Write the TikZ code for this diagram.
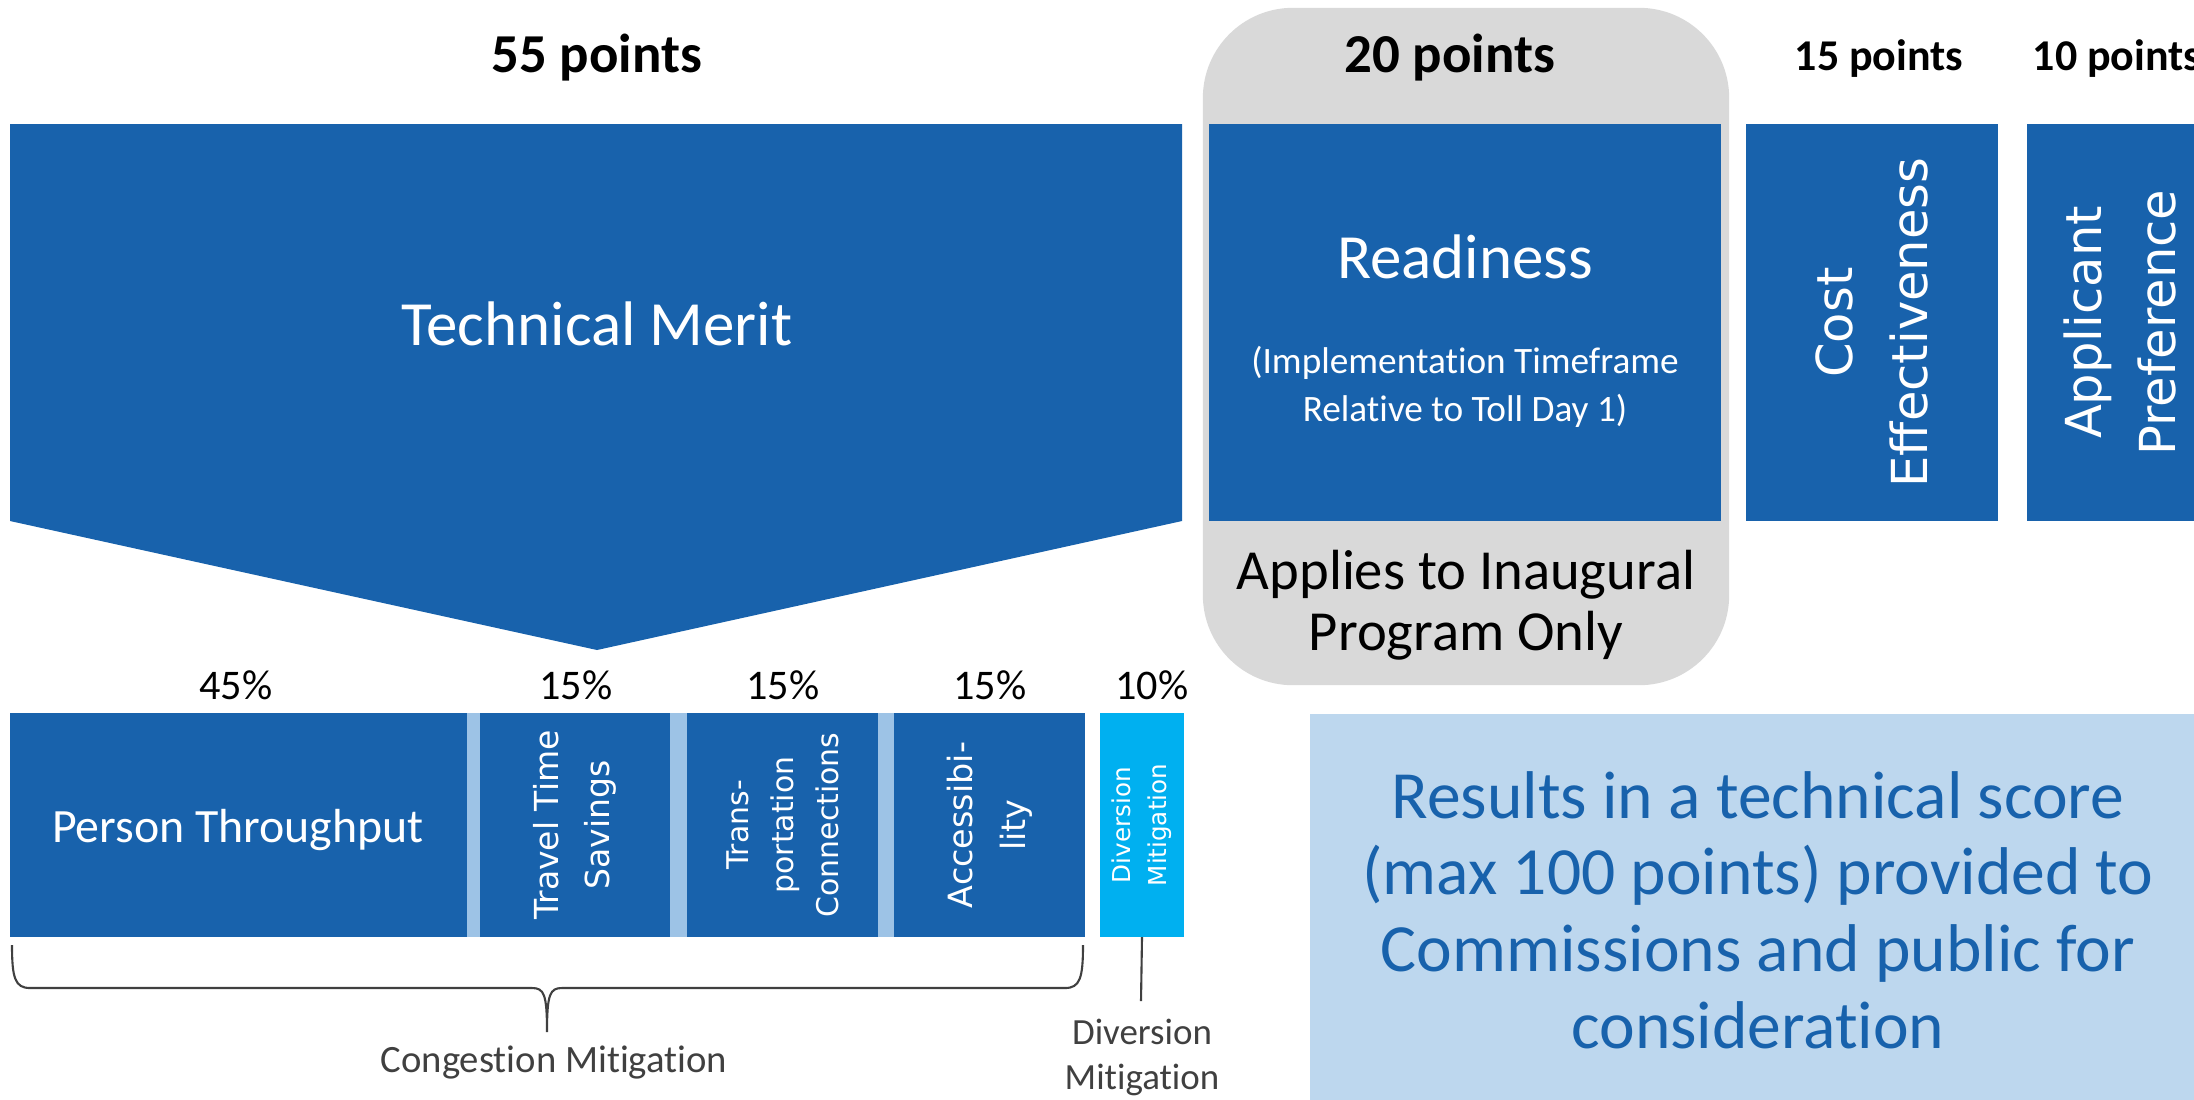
\documentclass[tikz,border=0pt]{standalone}
\usepackage{fontspec}
\setmainfont[Ligatures=NoCommon]{Carlito}
\newfontfamily\vfont{DejaVu Sans}
\usetikzlibrary{positioning,calc}
\definecolor{tblue}{HTML}{1862AC}
\definecolor{sepblue}{HTML}{9DC3E6}
\definecolor{divblue}{HTML}{00B0F0}
\definecolor{resblue}{HTML}{BDD7EE}
\definecolor{panelgrey}{HTML}{D9D9D9}
\definecolor{notegrey}{HTML}{404040}
\newcommand{\fs}[2]{\fontsize{#1}{#2}\selectfont}
\tikzset{
	box/.style={rectangle,fill=tblue,inner sep=0pt,outer sep=0pt,minimum height=3.97cm},
	bar/.style={rectangle,fill=tblue,inner sep=0pt,outer sep=0pt,minimum height=2.24cm},
	panel/.style={rectangle,rounded corners=0.9cm,fill=panelgrey,inner sep=0pt},
	wtext/.style={text=white,align=center,inner sep=0pt},
	vtext/.style={text=white,align=center,inner sep=0pt,rotate=90},
	head/.style={inner sep=0pt,font=\bfseries\fs{#1}{#1}},
	pct/.style={inner sep=0pt,font=\fs{12}{14}},
	note/.style={inner sep=0pt,text=notegrey,align=center},
	guide/.style={draw=notegrey,line width=0.6pt},
	resbox/.style={rectangle,fill=resblue,text=tblue,align=center,inner sep=0pt}}

\begin{document}
\begin{tikzpicture}[x=0.01cm,y=-0.01cm]
		\useasboundingbox (0,0) rectangle (2194,1099);
		% top row
		\node (inaug) at (1466,346.5) [panel,minimum width=5.26cm,minimum height=6.77cm] {};
		\fill [tblue] (10,124) -- (1182,124) -- (1182,521) -- (597,650) -- (10,521) -- cycle;
		\node (ready) at (1465,322.5) [box,minimum width=5.12cm] {};
		\node (cost) at (1872,322.5) [box,minimum width=2.52cm] {};
		\node (appl) at (2120,322.5) [box,minimum width=1.86cm] {};
		\node (h55) at (597,58) [head=15.6] {55 points};
		\node (h20) at (1450,58) [head=15.6] {20 points};
		\node (h15) at (1879,59) [head=12.5] {15 points};
		\node (h10) at (2032,59) [head=12.5,anchor=west] {10 points};
		\node (merit) at (597,324) [wtext,font=\fs{17.9}{21}] {Technical Merit};
		\node (readtxt) at (1465,257) [wtext,font=\fs{17.9}{21}] {Readiness};
		\node (impl) at (1465,387) [wtext,font=\fs{10.6}{13.5}] {(Implementation Timeframe\\Relative to Toll Day 1)};
		\node (only) at (1466,605) [inner sep=0pt,align=center,font=\fs{16.1}{17.5}] {Applies to Inaugural\\Program Only};
		\node at (cost) [vtext,font=\vfont\fs{14.1}{21.3}] {Cost\\Effectiveness};
		\node at (appl) [vtext,font=\vfont\fs{14.1}{21.3}] {Applicant\\Preference};
		% bottom row
		\node (track) at (547.5,825) [bar,fill=sepblue,minimum width=10.75cm] {};
		\node (person) at (238.5,825) [bar,minimum width=4.57cm] {};
		\node (tts) at (575,825) [bar,minimum width=1.9cm] {};
		\node (trans) at (782.5,825) [bar,minimum width=1.91cm] {};
		\node (access) at (989.5,825) [bar,minimum width=1.91cm] {};
		\node (divm) at (1142,825) [bar,fill=divblue,minimum width=0.84cm] {};
		\node at (238,830) [wtext,font=\fs{13.6}{16}] {Person Throughput};
		\node at (tts) [vtext,font=\vfont\fs{9.4}{14.5}] {Travel Time\\Savings};
		\node at (trans) [vtext,font=\vfont\fs{8.5}{12.8}] {Trans-\\portation\\Connections};
		\node at (access) [vtext,font=\vfont\fs{9.5}{15}] {Accessibi-\\lity};
		\node at (divm) [vtext,font=\vfont\fs{7}{10.2}] {Diversion\\Mitigation};
		\node (p1) at (236,685) [pct] {45\%};
		\node (p2) at (576,685) [pct] {15\%};
		\node (p3) at (783,685) [pct] {15\%};
		\node (p4) at (990,685) [pct] {15\%};
		\node (p5) at (1152,685) [pct] {10\%};
		% brace under the congestion bars
		\coordinate (bl) at (12,945);
		\coordinate (br) at (1083,945);
		\coordinate (tip) at (547,1032);
		\draw [guide] (bl) .. controls (12,978) and (15,988) .. (30,988) -- (532,988)
			.. controls (544,988) and (547,994) .. (tip)
			.. controls (547,994) and (550,988) .. (562,988) -- (1065,988)
			.. controls (1080,988) and (1083,978) .. (br);
		\node (cong) at (554,1062) [note,font=\fs{11}{13}] {Congestion Mitigation};
		\coordinate (divend) at (1141,1001);
		\draw [guide] (divm.south) -- (divend);
		\node (divlab) at (1142,1057) [note,font=\fs{10.5}{12.8}] {Diversion\\Mitigation};
		% result
		\node (result) at (1758,910) [resbox,minimum width=8.96cm,minimum height=3.92cm,font=\fs{19.2}{21.8}] {Results in a technical score\\(max 100 points) provided to\\Commissions and public for\\consideration};
\end{tikzpicture}
\end{document}
